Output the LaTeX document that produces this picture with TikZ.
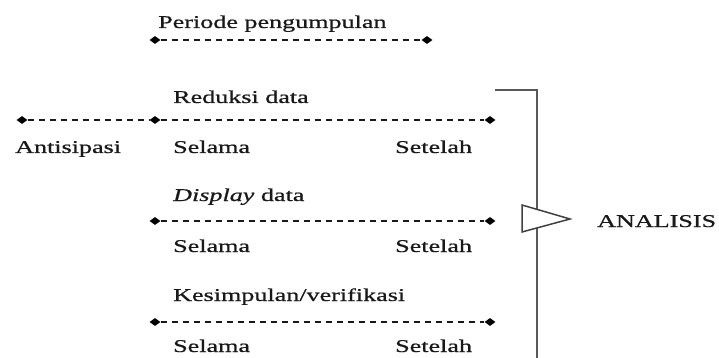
\documentclass[tikz,border=0pt]{standalone}
\usepackage{fontspec}
\setmainfont{Liberation Serif}[FakeStretch=1.45,FakeBold=0.8]
\usetikzlibrary{shapes.geometric}
\begin{document}
\begin{tikzpicture}[x=1pt,y=-1pt,
  dot/.style={diamond,fill=black,draw=none,inner sep=0pt,minimum width=11pt,minimum height=8pt},
  dline/.style={draw=black!90,line width=1.7pt,dash pattern=on 6.5pt off 4.5pt},
  lbl/.style={anchor=base west,inner sep=0pt,text=black!90,font=\fontsize{18}{21}\selectfont},
  brk/.style={draw=black!65,line width=2pt},
  tri/.style={draw=black!75,line width=1.5pt,fill=white,line join=miter}]
\useasboundingbox (0,0) rectangle (719,358);
% row 1
\node[lbl] (t1) at (158,28) {Periode pengumpulan};
\node[dot] (a1) at (155,40) {};
\node[dot] (b1) at (427,40) {};
\draw[dline] (a1) -- (b1);
% row 2
\node[lbl] (t2) at (173,103) {Reduksi data};
\node[dot] (z2) at (22,120) {};
\node[dot] (a2) at (155,120) {};
\node[dot] (b2) at (490,120) {};
\draw[dline] (z2) -- (a2);
\draw[dline] (a2) -- (b2);
\node[lbl] (ant) at (15,153) {Antisipasi};
\node[lbl] (s2) at (173,153) {Selama};
\node[lbl] (e2) at (395,153) {Setelah};
% row 3
\node[lbl] (t3) at (173,201) {\textit{Display} data};
\node[dot] (a3) at (155,221) {};
\node[dot] (b3) at (490,221) {};
\draw[dline] (a3) -- (b3);
\node[lbl] (s3) at (173,252) {Selama};
\node[lbl] (e3) at (395,252) {Setelah};
% row 4
\node[lbl] (t4) at (173,301) {Kesimpulan/verifikasi};
\node[dot] (a4) at (155,322) {};
\node[dot] (b4) at (490,322) {};
\draw[dline] (a4) -- (b4);
\node[lbl] (s4) at (173,352) {Selama};
\node[lbl] (e4) at (395,352) {Setelah};
% bracket
\coordinate (k1) at (495,90);
\coordinate (k2) at (537,90);
\coordinate (k3) at (537,359);
\draw[brk] (k1) -- (k2) -- (k3);
% triangle
\draw[tri] (522,205) -- (570,219) -- (522,232) -- cycle;
\node[lbl] (an) at (597,227) {ANALISIS};
\end{tikzpicture}
\end{document}
